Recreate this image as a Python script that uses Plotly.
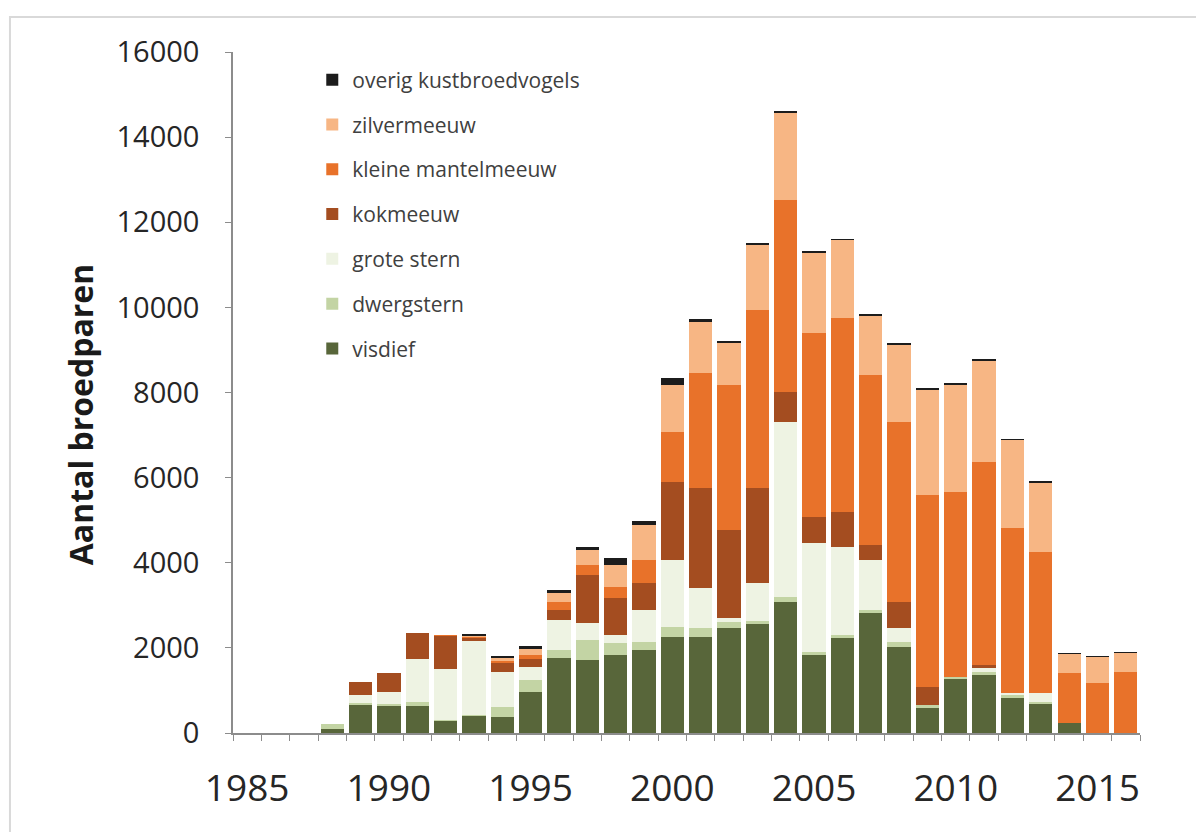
import plotly.graph_objects as go

# Broedparen per jaar, per soort (1985-2016)
jaren = list(range(1985, 2017))

visdief = [0, 0, 0, 100, 650, 650, 630, 290, 400, 380, 970, 1760, 1715, 1833, 1950, 2263,
           2263, 2467, 2560, 3085, 1833, 2232, 2820, 2028, 587, 1285, 1363, 822, 681, 242, 0, 0]
dwergstern = [0, 0, 0, 110, 50, 30, 100, 20, 30, 230, 270, 190, 470, 282, 195, 237,
              204, 148, 80, 118, 77, 68, 70, 117, 71, 25, 80, 71, 50, 0, 0, 0]
grote_stern = [0, 0, 0, 0, 200, 290, 1020, 1190, 1740, 830, 310, 705, 400, 185, 745, 1565,
               933, 85, 884, 4112, 2554, 2078, 1175, 322, 0, 0, 77, 47, 200, 0, 0, 0]
kokmeeuw = [0, 0, 0, 0, 300, 430, 600, 780, 80, 200, 180, 235, 1127, 870, 634, 1840,
            2357, 2070, 2233, 705, 619, 822, 352, 618, 430, 0, 78, 0, 0, 0, 0, 0]
kleine_mantelmeeuw = [0, 0, 0, 0, 0, 0, 0, 20, 20, 60, 100, 195, 235, 268, 541, 1175,
                      2703, 3407, 4183, 4504, 4315, 4560, 3995, 4230, 4504, 4353, 4777, 3877, 3329, 1160, 1182, 1440]
zilvermeeuw = [0, 0, 0, 0, 0, 0, 0, 0, 30, 60, 150, 205, 353, 509, 822, 1097,
               1205, 986, 1526, 2051, 1880, 1824, 1393, 1802, 2468, 2514, 2373, 2067, 1621, 454, 611, 447]
overig = [0, 0, 0, 0, 0, 0, 0, 0, 30, 60, 70, 70, 78, 163, 103, 173,
          65, 57, 54, 47, 32, 20, 40, 46, 46, 39, 30, 20, 20, 20, 15, 15]

reeksen = [
    ("visdief", visdief, "#58663a"),
    ("dwergstern", dwergstern, "#c3d4a4"),
    ("grote stern", grote_stern, "#eef3e3"),
    ("kokmeeuw", kokmeeuw, "#a44d20"),
    ("kleine mantelmeeuw", kleine_mantelmeeuw, "#e8722a"),
    ("zilvermeeuw", zilvermeeuw, "#f7b684"),
    ("overig kustbroedvogels", overig, "#1c1c1c"),
]

jaar_labels = [1985, 1990, 1995, 2000, 2005, 2010, 2015]
y_ticks = list(range(0, 16001, 2000))

fig = go.Figure()
n = len(reeksen)
for i, (naam, waarden, kleur) in enumerate(reeksen):
    fig.add_trace(go.Bar(
        x=jaren, y=waarden, name=naam, legendgroup=naam,
        legendrank=n - i,  # bovenste laag bovenaan in de legenda
        marker=dict(color=kleur, line=dict(width=0)),
        width=0.82,
    ))

fig.update_layout(
    barmode="stack",
    width=1196, height=832,
    margin=dict(l=233, r=56, t=52, b=99),
    paper_bgcolor="white", plot_bgcolor="white",
    font=dict(family="Open Sans, Liberation Sans, sans-serif", color="#262626"),
    showlegend=True,
    legend=dict(
        traceorder="grouped",
        x=0.0874, y=0.989, xanchor="left", yanchor="top",
        font=dict(size=21, color="#404040"),
        tracegroupgap=14.5,
        bgcolor="rgba(0,0,0,0)",
    ),
    xaxis=dict(
        range=[1984.5, 2016.5],
        tickvals=jaar_labels,
        ticktext=[str(j) for j in jaar_labels],
        ticks="",
        tickfont=dict(size=37, color="#262626"),
        ticklabelstandoff=22,
        showline=True, linecolor="#8c8c8c", linewidth=1.5,
        showgrid=False, zeroline=False,
        minor=dict(
            tickvals=[j + 0.5 for j in range(1984, 2017)],
            ticks="outside", ticklen=6, tickcolor="#8c8c8c", tickwidth=1,
            showgrid=False,
        ),
    ),
    yaxis=dict(
        range=[0, 16000],
        tickvals=y_ticks,
        ticktext=[str(v) for v in y_ticks],
        ticks="outside", ticklen=6, tickcolor="#8c8c8c",
        tickfont=dict(size=29, color="#262626"),
        ticklabelstandoff=20,
        showline=True, linecolor="#8c8c8c", linewidth=1.5,
        showgrid=False, zeroline=False,
    ),
    annotations=[dict(
        text="<b>Aantal broedparen</b>", textangle=-90,
        xref="paper", yref="paper", x=-0.1687, y=0.468,
        xanchor="center", yanchor="middle", showarrow=False,
        font=dict(size=32, color="#1a1a1a"),
    )],
    shapes=[dict(
        type="rect", xref="paper", yref="paper",
        x0=-0.2459, x1=1.07, y0=-0.16, y1=1.0514,
        line=dict(color="#d9d9d9", width=2), fillcolor="rgba(0,0,0,0)", layer="below",
    )],
)

fig.write_html("out.html")
